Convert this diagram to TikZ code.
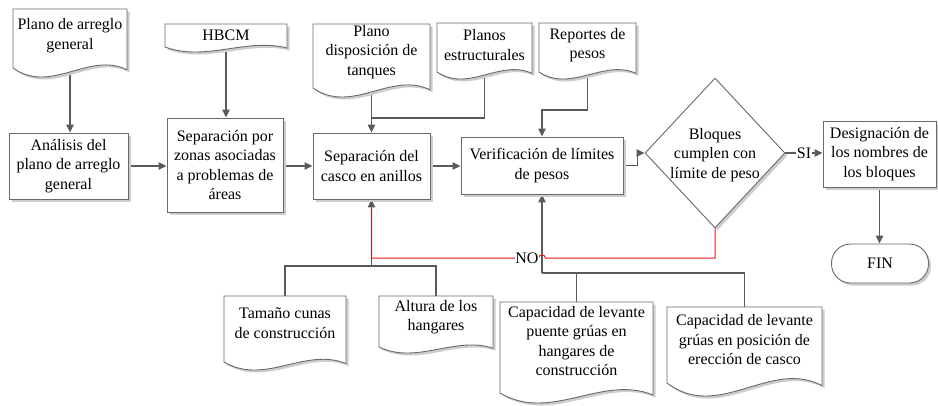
\documentclass[tikz,border=0pt]{standalone}
\usepackage{fontspec}
\IfFontExistsTF{LiberationSerif-Regular.ttf}{%
  \newfontfamily\diagserif{LiberationSerif-Regular.ttf}}{%
  \newfontfamily\diagserif{Latin Modern Roman}}
\usetikzlibrary{shapes.geometric,shadows,arrows.meta,calc}
\pgfdeclarelayer{bg}
\pgfsetlayers{bg,main}
\definecolor{lg}{RGB}{90,90,90}
\definecolor{bordergray}{RGB}{105,105,105}
\definecolor{shd}{RGB}{205,205,205}
\definecolor{nored}{RGB}{230,20,20}
\newcommand{\diagfont}{\diagserif\fontsize{16}{19.5}\selectfont}
\tikzset{
  base/.style={draw=bordergray, line width=0.9pt, fill=white,
    drop shadow={shadow xshift=2.5pt, shadow yshift=-2.5pt, fill=shd, opacity=1}},
  procbox/.style={base, rectangle, align=center, inner sep=1pt, font=\diagfont},
  decision/.style={base, diamond, inner sep=0pt, minimum width=140pt, minimum height=150pt},
  term/.style={base, rectangle, rounded corners=19pt, font=\diagfont},
  doctext/.style={font=\diagfont, align=center, inner sep=1pt},
  conn/.style={draw=lg, line width=1.4pt},
  arr/.style={-{Triangle[length=8pt,width=7.5pt]}},
  redl/.style={draw=nored, line width=1pt},
  lbl/.style={font=\diagfont, fill=white, inner sep=0.5pt}
}
% #1 name, #2 x1, #3 y1, #4 x2, #5 y2 (left edge end), #6 wave depth, #7 text shift, #8 text
\newcommand{\docshape}[8]{%
  \path[base] (#2,#3) -- (#4,#3) -- (#4,{#5+0.2*#6})
    .. controls ({#4-(#4-#2)/3},{#5-1.9*#6}) and ({#2+(#4-#2)/3},{#5+3*#6}) .. (#2,#5) -- cycle;
  \node[doctext] (#1) at ({(#2+#4)/2},{(#3+#5)/2+#7}) {#8};
}
\begin{document}
\begin{tikzpicture}[x=1pt,y=-1pt]
\useasboundingbox (0,0) rectangle (938,405);

% documents
\docshape{d1}{13}{9}{127}{68}{9}{-3}{Plano de arreglo\\general}
\docshape{d2}{165}{24}{287}{47}{5}{0}{HBCM}
\docshape{d3}{313}{24}{430}{88}{9}{-4}{Plano\\disposición de\\tanques}
\docshape{d4}{437}{23}{532}{72}{7}{-2.5}{Planos\\estructurales}
\docshape{d5}{539}{23}{636}{72}{7}{-2.5}{Reportes de\\pesos}
\docshape{d6}{224}{296}{346}{362}{8}{-6}{Tamaño cunas\\de construcción}
\docshape{d7}{379}{296}{493}{347}{6}{-4.5}{Altura de los\\hangares}
\docshape{d8}{500}{302}{653}{393}{10}{-6.5}{Capacidad de levante\\puente grúas en\\hangares de\\construcción}
\docshape{d9}{667}{307}{822}{383}{13}{-5}{Capacidad de levante\\grúas en posición de\\erección de casco}

% process boxes
\node[procbox, minimum width=119pt, minimum height=66pt] (analisis) at (68.5,166) {Análisis del\\plano de arreglo\\general};
\node[procbox, minimum width=116pt, minimum height=94pt] (zonas) at (225,165) {Separación por\\zonas asociadas\\a problemas de\\áreas};
\node[procbox, minimum width=117pt, minimum height=66pt] (casco) at (371.5,166) {Separación del\\casco en anillos};
\node[procbox, minimum width=162pt, minimum height=57pt] (verif) at (542,165.5) {Verificación de límites\\de pesos};
\node[decision] (dia) at (715,153) {};
\node[doctext] (diatext) at (715,155) {Bloques\\cumplen con\\límite de peso};
\node[procbox, minimum width=113pt, minimum height=66pt] (desig) at (879.5,154) {Designación de\\los nombres de\\los bloques};
\node[term, minimum width=97pt, minimum height=39pt] (fin) at (880,263.5) {FIN};

\coordinate (j1) at (371.5,118);
\coordinate (j2) at (542,110);
\coordinate (j3) at (371.5,266);
\coordinate (j4) at (542,273);
\coordinate (nl) at (0,258);

\begin{pgfonlayer}{bg}
\draw[conn,arr] (d1) -- (d1 |- analisis.north);
\draw[conn,arr] (analisis.east) -- (analisis.east -| zonas.west);
\draw[conn,arr] (d2) -- (d2 |- zonas.north);
\draw[conn,arr] (zonas.east |- casco) -- (casco.west);
\draw[conn,arr] (d3) -- (d3 |- casco.north);
\draw[conn] (d4) |- (j1);
\draw[conn,arr] (casco.east) -- (casco.east -| verif.west);
\draw[conn,arr] (d5) |- (j2) -- (verif.north);
\draw[conn,arr] (verif.east) -- ++(14,0) |- (dia.west);
\draw[conn,arr] (dia.east) -- node[lbl]{SI} (dia.east -| desig.west);
\draw[conn,arr] (desig.south) -- (desig.south |- fin.north);
\draw[conn] (d6) |- (j3) -| (d7);
\draw[conn,arr] (j3) -- (casco.south);
\draw[conn] (d8) |- (j4) -| (d9);
\draw[conn,arr] (j4) -- (verif.south);
\draw[redl] (dia.south) -- (dia.south |- nl) -- ($(verif.south |- nl)+(3.5,0)$)
  .. controls +(0,-4) and +(0,-4) .. ($(verif.south |- nl)+(-3.5,0)$)
  -- node[pos=0.07,lbl]{NO} (casco.south |- nl) -- ($(casco.south)+(0,9)$);
\end{pgfonlayer}
\end{tikzpicture}
\end{document}
